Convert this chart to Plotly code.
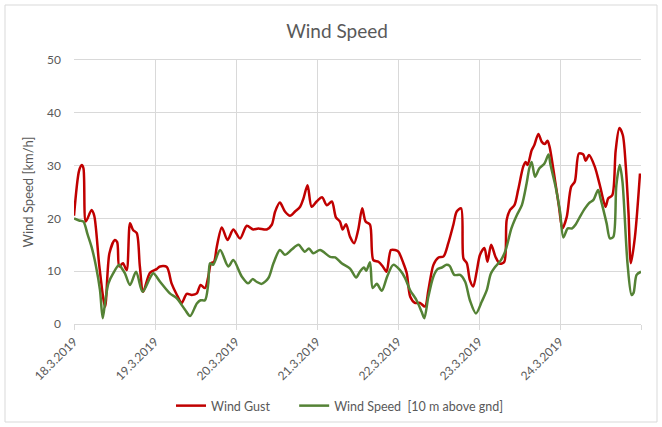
import pandas as pd
import plotly.graph_objects as go

# ---- data (hours after 18.3.2019 00:00, km/h) ----
gust_hours = [0, 1.5, 2.3, 2.8, 3.5, 5.2, 6.0, 7.5, 9.2, 10.5, 12.1, 12.8, 13.4, 14.5, 15.6, 16.6, 17.5,
              18.6, 19.5, 20.5, 22.5, 24.5, 25.5, 27.5, 28.9, 30.5, 31.9, 33.4, 34.9, 36.4, 37.5, 38.8,
              39.8, 40.6, 41.5, 42.3, 43.8, 45.5, 47.2, 49.2, 51.2, 53.1, 54.6, 57.1, 58.6, 59.6, 61.0,
              62.5, 64.0, 65.5, 67.0, 68.0, 69.2, 70.4, 71.9, 73.5, 74.9, 76.4, 77.6, 78.8, 79.6, 80.6,
              81.8, 83.0, 84.2, 85.4, 86.4, 87.7, 88.7, 90.2, 91.5, 92.6, 93.9, 95.1, 96.1, 97.6, 98.6,
              99.6, 101.0, 102.5, 104.0, 105.0, 106.5, 108.0, 109.5, 110.9, 112.4, 113.4, 114.7, 115.4,
              116.4, 117.3, 118.3, 119.3, 120.3, 121.6, 122.5, 123.6, 124.9, 126.2, 127.5, 128.2, 129.2,
              130.5, 131.6, 133.1, 133.8, 134.4, 135.6, 136.4, 137.6, 138.6, 139.5, 140.3, 140.9, 142.5,
              143.7, 144.7, 146.0, 147.3, 148.4, 149.6, 150.9, 151.6, 152.6, 154.3, 155.8, 157.5, 158.3,
              159.5, 160.5, 161.6, 162.6, 163.5, 164.3, 165.0, 166.2, 167.7]
gust_values = [20.5, 29.0, 30.1, 29.5, 19.4, 21.6, 20.5, 11.0, 3.3, 13.4, 15.9, 15.5, 10.9, 11.5, 10.2, 19.1, 17.8,
               17.2, 11.0, 6.1, 9.7, 10.4, 10.9, 10.8, 7.7, 5.5, 4.0, 5.7, 5.5, 5.8, 7.4, 6.8,
               9.0, 11.5, 11.8, 14.6, 18.3, 15.9, 17.9, 16.2, 18.6, 17.9, 18.1, 17.9, 18.8, 21.3, 23.0,
               21.3, 20.5, 21.3, 22.2, 23.8, 26.3, 22.2, 23.2, 24.0, 22.5, 23.2, 20.2, 19.4, 17.9, 18.9,
               16.5, 15.3, 17.8, 21.9, 19.4, 18.8, 12.1, 11.8, 10.9, 9.9, 14.0, 14.0, 13.7, 11.5, 9.6,
               5.2, 4.0, 4.0, 3.3, 6.4, 11.2, 12.6, 12.8, 15.3, 18.8, 21.3, 21.9, 12.4,
               11.5, 8.3, 7.1, 9.9, 13.1, 14.4, 11.8, 15.0, 12.7, 11.4, 11.8, 19.7, 21.6,
               22.5, 25.4, 29.8, 30.7, 30.1, 32.9, 33.9, 36.0, 34.5, 34.1, 34.7, 33.6, 27.3,
               22.2, 18.1, 20.3, 26.0, 27.0, 32.3, 32.1, 30.9, 32.0, 29.8, 26.3, 22.2, 23.8,
               24.4, 32.9, 37.1, 35.8, 29.8, 21.0, 11.5, 16.5, 28.5]

speed_hours = [0, 1.5, 2.8, 4.0, 5.2, 6.5, 7.7, 8.5, 9.3, 10.2, 11.6, 13.4, 14.2, 15.1, 16.6, 18.4, 20.3,
               22.5, 23.5, 25.5, 28.4, 30.4, 32.9, 34.4, 36.4, 37.5, 38.8, 39.8, 40.3, 41.2, 43.3, 45.7,
               47.2, 49.7, 51.6, 52.9, 54.1, 55.6, 57.6, 59.1, 61.0, 62.5, 64.5, 66.5, 68.4, 69.6, 70.9,
               72.9, 75.9, 77.4, 79.3, 81.8, 83.6, 84.7, 85.9, 86.6, 87.7, 88.5, 89.7, 91.2, 92.8, 94.6,
               96.6, 98.1, 99.6, 101.5, 103.0, 103.8, 105.0, 106.5, 107.7, 109.0, 110.4, 111.3, 112.7,
               114.4, 115.9, 117.3, 119.1, 120.8, 122.3, 123.5, 124.9, 126.5, 127.9, 129.6, 131.2, 132.7,
               134.1, 134.9, 135.6, 136.6, 137.9, 139.4, 140.6, 141.2, 142.7, 144.0, 145.0, 146.3, 147.6,
               148.6, 149.9, 151.4, 152.6, 153.9, 155.3, 156.0, 157.8, 158.8, 159.8, 160.7, 161.7, 162.5,
               164.0, 165.2, 165.8, 166.7, 168.0]
speed_values = [20.0, 19.6, 19.4, 17.0, 14.6, 11.0, 6.4, 1.1, 4.5, 7.7, 9.6, 11.2, 10.5, 9.6, 7.4, 9.9, 6.1,
                8.7, 9.6, 8.0, 5.8, 4.9, 2.7, 1.5, 3.9, 4.5, 4.5, 7.7, 11.5, 11.2, 14.0, 10.9,
                12.1, 9.0, 7.7, 8.5, 8.0, 7.6, 8.7, 11.5, 14.0, 13.1, 14.1, 15.0, 13.7, 14.3, 13.4,
                14.0, 12.7, 12.6, 11.5, 10.5, 8.8, 9.9, 10.7, 10.1, 11.7, 6.8, 7.6, 6.3, 9.0, 11.2,
                10.2, 8.7, 6.4, 4.5, 2.3, 1.1, 5.2, 9.0, 10.4, 10.7, 11.2, 11.0, 9.3,
                9.3, 8.0, 4.5, 2.0, 4.2, 6.4, 9.5, 10.9, 12.1, 14.0, 18.1, 20.6, 22.5,
                26.6, 29.5, 30.7, 27.9, 29.5, 30.4, 32.1, 30.1, 26.0, 21.3, 16.4, 18.1, 18.1,
                18.8, 20.3, 21.9, 22.9, 23.5, 25.4, 23.8, 19.1, 16.2, 16.5, 26.3, 30.1, 27.0,
                11.5, 5.5, 5.9, 9.3, 9.9]

tick_dates = ["2019-03-18", "2019-03-19", "2019-03-20", "2019-03-21", "2019-03-22",
              "2019-03-23", "2019-03-24", "2019-03-25"]
tick_labels = ["18.3.2019", "19.3.2019", "20.3.2019", "21.3.2019", "22.3.2019",
               "23.3.2019", "24.3.2019", ""]

base = pd.Timestamp("2019-03-18")
gust_x = [base + pd.Timedelta(hours=h) for h in gust_hours]
speed_x = [base + pd.Timedelta(hours=h) for h in speed_hours]

FONT = "Lato, Carlito, Calibri, sans-serif"
TXT = "#595959"
GRID = "#D9D9D9"

fig = go.Figure()
fig.add_trace(go.Scatter(x=gust_x, y=gust_values, mode="lines",
                         name="Wind Gust" + "\u00a0" * 6,
                         line=dict(color="#C00000", width=2.5, shape="spline", smoothing=0.8)))
fig.add_trace(go.Scatter(x=speed_x, y=speed_values, mode="lines",
                         name="Wind Speed \u00a0[10 m above gnd]",
                         line=dict(color="#548235", width=2.5, shape="spline", smoothing=0.8)))

W, H = 662, 427
L, R, T, B = 74, 21, 60, 103
pw, ph = W - L - R, H - T - B

def px_x(p):
    return (p - L) / pw

def px_y(p):
    return (H - B - p) / ph

fig.add_shape(type="rect", xref="paper", yref="paper", layer="below",
              x0=px_x(5), x1=px_x(657), y0=px_y(422), y1=px_y(5),
              line=dict(color=GRID, width=1), fillcolor="rgba(0,0,0,0)")

fig.update_layout(
    width=W, height=H,
    margin=dict(l=L, r=R, t=T, b=B, autoexpand=False),
    paper_bgcolor="white", plot_bgcolor="white",
    font=dict(family=FONT, color=TXT, size=12),
    title=dict(text="Wind Speed", x=(337) / W, xanchor="center",
               y=1 - 31 / H, yanchor="middle", yref="container",
               font=dict(size=19, color=TXT, family=FONT)),
    showlegend=True,
    legend=dict(orientation="h", x=px_x(340), xanchor="center", y=px_y(406), yanchor="middle",
                font=dict(size=12.5, color=TXT), itemwidth=30, traceorder="normal"),
    xaxis=dict(type="date", range=[tick_dates[0], tick_dates[-1]],
               tickmode="array", tickvals=tick_dates, ticktext=tick_labels,
               tickangle=-45, showgrid=True, gridcolor=GRID, gridwidth=1,
               showline=True, linecolor=GRID, linewidth=1, mirror=True,
               ticks="outside", ticklen=5, tickcolor=GRID,
               tickfont=dict(size=12, color=TXT), zeroline=False),
    yaxis=dict(range=[0, 50], dtick=10, showgrid=True, gridcolor=GRID, gridwidth=1,
               showline=False, zeroline=False, ticks="", ticklabelstandoff=12,
               tickfont=dict(size=12, color=TXT),
               title=dict(text="Wind Speed [km/h]", font=dict(size=13, color=TXT), standoff=10)),
)

fig.write_html("out.html", config={"displayModeBar": False},
               post_script="document.body.style.margin='0';")
